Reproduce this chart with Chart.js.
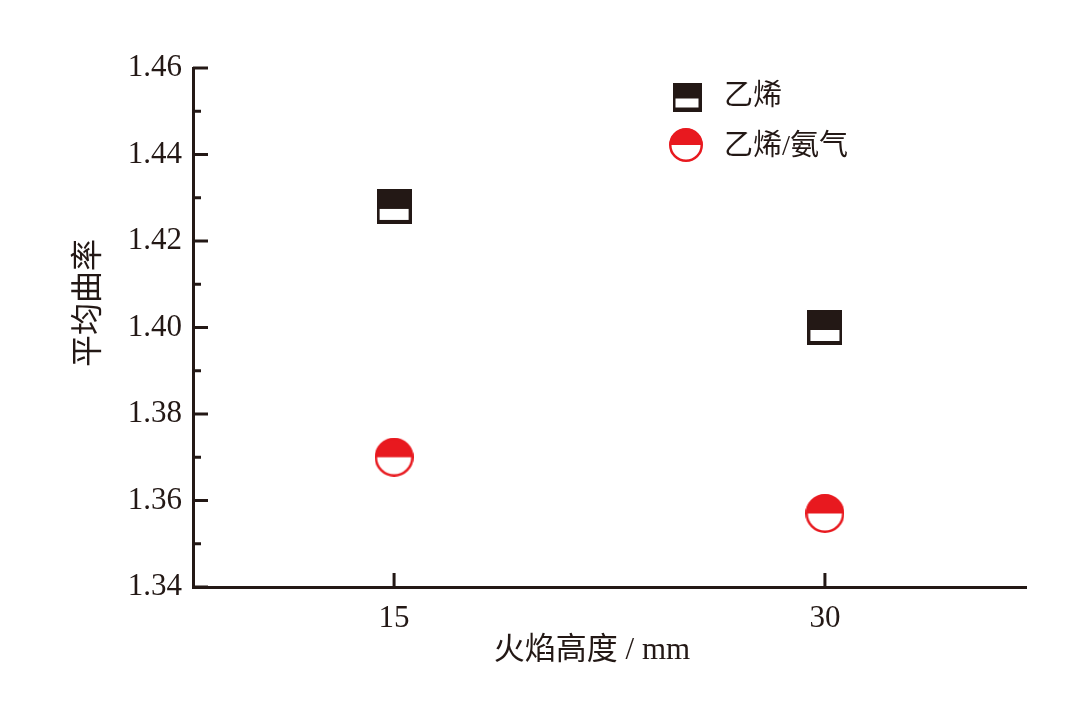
<!DOCTYPE html>
<html><head><meta charset="utf-8">
<script src="https://cdn.jsdelivr.net/npm/chart.js@4/dist/chart.umd.min.js"></script>
<style>html,body{margin:0;padding:0;background:#fff}#wrap{width:1081px;height:703px}</style>
</head><body><div id="wrap"><canvas id="c"></canvas></div>
<script>
const xValues = [15, 30];
const ethylene = [1.428, 1.400];
const ethyleneAmmonia = [1.370, 1.357];
const seriesNames = ['乙烯', '乙烯/氨气'];
const yMajorTicks = [1.34, 1.36, 1.38, 1.40, 1.42, 1.44, 1.46];
const yMinorTicks = [1.35, 1.37, 1.39, 1.41, 1.43, 1.45];
const xTickValues = [15, 30];
const xTitle = '火焰高度 / mm';
const yTitle = '平均曲率';

const BLACK = '#231815';
const RED = '#e8191f';
const FONT = "'Liberation Serif','Noto Sans CJK SC',serif";

function squareMarker(size, lw, split) {
  const c = document.createElement('canvas');
  c.width = size; c.height = size;
  const g = c.getContext('2d');
  g.fillStyle = BLACK; g.fillRect(0, 0, size, size);
  g.fillStyle = '#fff';
  g.fillRect(lw, split, size - 2 * lw, size - lw - split - 1);
  return c;
}
function circleMarker(d, lw) {
  const c = document.createElement('canvas');
  c.width = d; c.height = d;
  const g = c.getContext('2d');
  const r = d / 2;
  g.fillStyle = '#fff';
  g.beginPath(); g.arc(r, r, r - lw / 2, 0, Math.PI * 2); g.fill();
  g.fillStyle = RED;
  g.beginPath(); g.arc(r, r, r - 0.5, Math.PI, Math.PI * 2); g.closePath(); g.fill();
  g.strokeStyle = RED; g.lineWidth = lw;
  g.beginPath(); g.arc(r, r, r - lw / 2, 0, Math.PI * 2); g.stroke();
  return c;
}
const sqPlot = squareMarker(35, 3, 20);
const ciPlot = circleMarker(39, 2.5);
const sqLeg = squareMarker(29, 3, 16);
const ciLeg = circleMarker(34, 2.5);

const overlay = {
  id: 'overlay',
  afterDraw(chart) {
    const ctx = chart.ctx;
    const xs = chart.scales.x, ys = chart.scales.y;
    const left = chart.chartArea.left, bottom = chart.chartArea.bottom;
    ctx.save();
    ctx.strokeStyle = BLACK; ctx.lineWidth = 3; ctx.lineCap = 'butt';
    yMajorTicks.forEach(v => {
      const y = ys.getPixelForValue(v);
      ctx.beginPath(); ctx.moveTo(left, y); ctx.lineTo(left + 15, y); ctx.stroke();
    });
    yMinorTicks.forEach(v => {
      const y = ys.getPixelForValue(v);
      ctx.beginPath(); ctx.moveTo(left, y); ctx.lineTo(left + 8, y); ctx.stroke();
    });
    xTickValues.forEach(v => {
      const x = xs.getPixelForValue(v);
      ctx.beginPath(); ctx.moveTo(x, bottom); ctx.lineTo(x, bottom - 14); ctx.stroke();
    });
    // titles
    ctx.fillStyle = '#231815';
    ctx.textAlign = 'center'; ctx.textBaseline = 'middle';
    ctx.font = '31px ' + FONT;
    ctx.fillText(xTitle, 592, 651);
    ctx.save();
    ctx.translate(90, 303); ctx.rotate(-Math.PI / 2);
    ctx.font = '32px ' + FONT;
    ctx.fillText(yTitle, 0, 0);
    ctx.restore();
    // legend
    ctx.drawImage(sqLeg, 687 - sqLeg.width / 2, 97 - sqLeg.height / 2);
    ctx.drawImage(ciLeg, 686 - ciLeg.width / 2, 145 - ciLeg.height / 2);
    ctx.textAlign = 'left';
    ctx.font = '29px ' + FONT;
    ctx.fillText(seriesNames[0], 724, 97);
    ctx.fillText(seriesNames[1], 724, 147);
    ctx.restore();
  }
};

new Chart(document.getElementById('c'), {
  type: 'scatter',
  data: {
    datasets: [
      { label: seriesNames[0], data: xValues.map((x, i) => ({ x, y: ethylene[i] })),
        pointStyle: sqPlot, pointRadius: 18, pointHoverRadius: 18 },
      { label: seriesNames[1], data: xValues.map((x, i) => ({ x, y: ethyleneAmmonia[i] })),
        pointStyle: ciPlot, pointRadius: 19, pointHoverRadius: 19 }
    ]
  },
  options: {
    responsive: true, maintainAspectRatio: false, animation: false,
    events: [],
    layout: { padding: { top: 68, right: 55, bottom: 0, left: 0 } },
    plugins: { legend: { display: false }, tooltip: { enabled: false } },
    scales: {
      x: {
        type: 'linear', min: 8, max: 37,
        afterBuildTicks: s => { s.ticks = xTickValues.map(v => ({ value: v })); },
        afterFit: s => { s.height = 116; },
        grid: { display: false },
        border: { display: true, color: BLACK, width: 3 },
        ticks: { color: BLACK, padding: 5, maxRotation: 0, font: { family: FONT, size: 31 },
          callback: v => String(v) }
      },
      y: {
        type: 'linear', min: 1.34, max: 1.46,
        afterBuildTicks: s => { s.ticks = yMajorTicks.map(v => ({ value: v })); },
        afterFit: s => { s.width = 193; },
        grid: { display: false },
        border: { display: true, color: BLACK, width: 3 },
        ticks: { color: BLACK, padding: 3, font: { family: FONT, size: 31 },
          callback: v => Number(v).toFixed(2) }
      }
    }
  },
  plugins: [overlay]
});
</script>
</body></html>
